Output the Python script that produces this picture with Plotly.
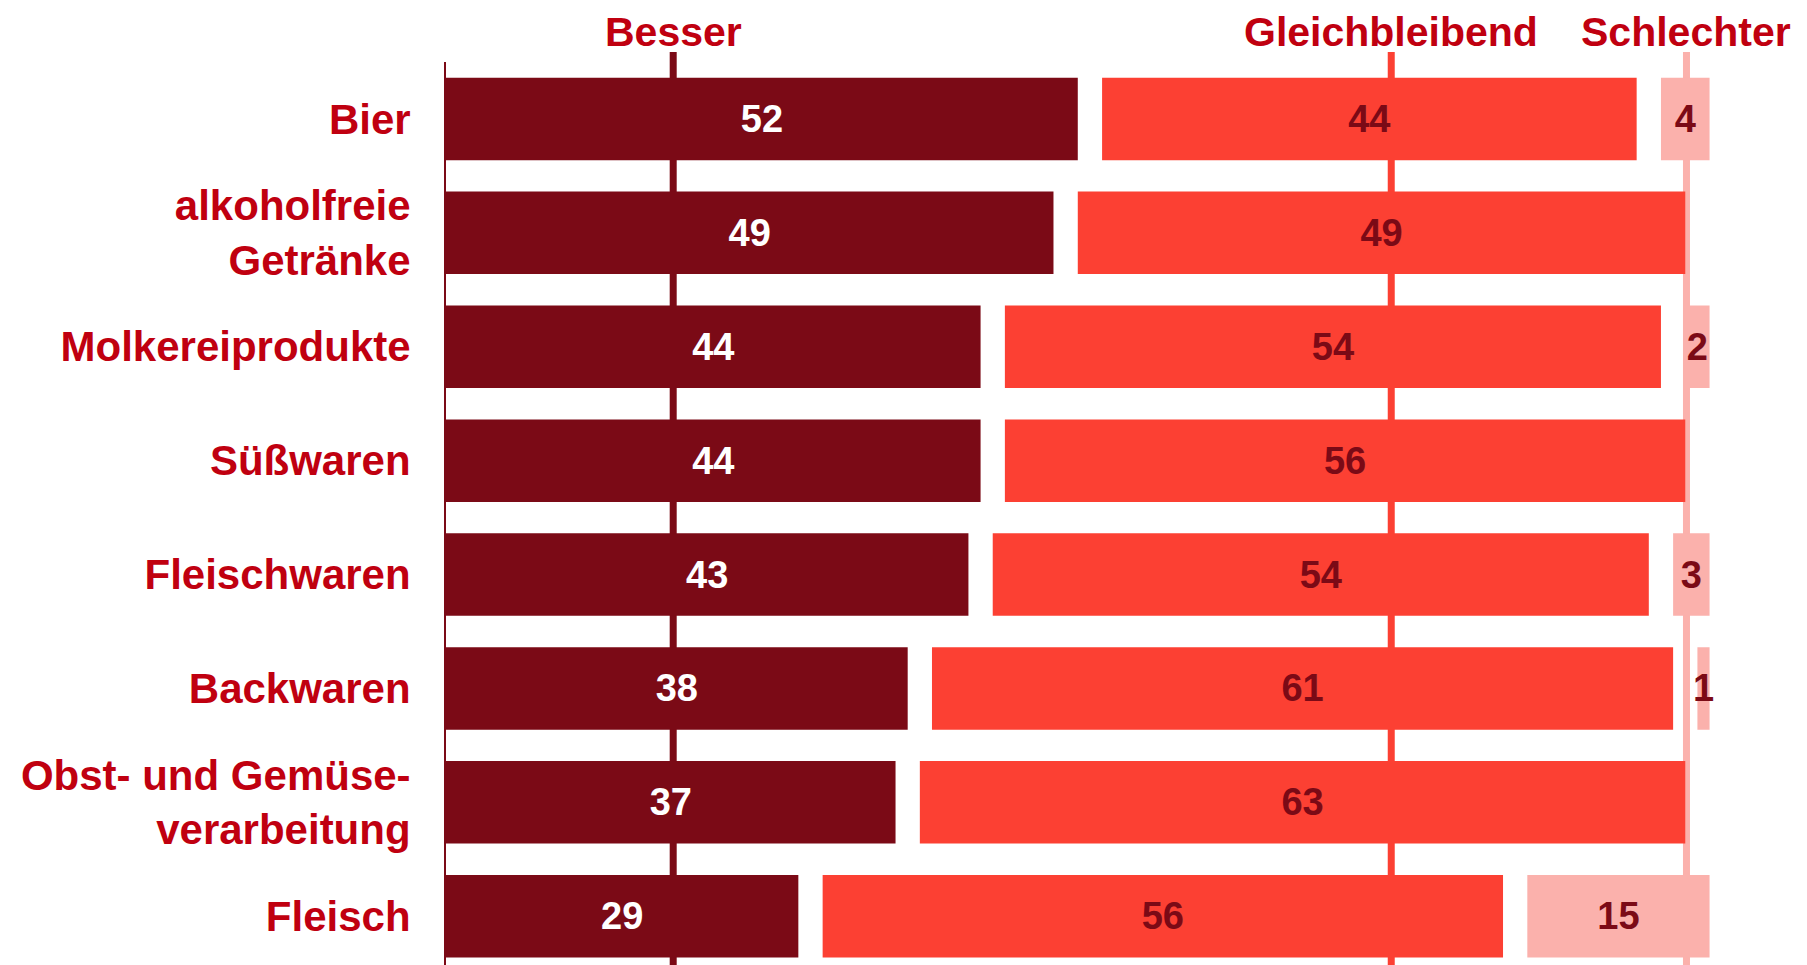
import plotly.graph_objects as go

# survey shares per product group (percent)
categories = ["Bier", "alkoholfreie<br>Getränke", "Molkereiprodukte", "Süßwaren",
              "Fleischwaren", "Backwaren", "Obst- und Gemüse-<br>verarbeitung", "Fleisch"]
besser = [52, 49, 44, 44, 43, 38, 37, 29]
gleichbleibend = [44, 49, 54, 56, 54, 61, 63, 56]
schlechter = [4, 0, 2, 0, 3, 1, 0, 15]

series_names = ["Besser", "Gleichbleibend", "Schlechter"]
header_pos = [18.7, 77.8, 102.1]  # x position of the header labels / guide lines

colors = ["#7B0A16", "#FC4033", "#FBB1AC"]
text_colors = ["white", "#7B0A16", "#7B0A16"]
label_red = "#C00010"
FONT = "Liberation Sans, Arial, sans-serif"
GAP = 2  # white gap between segments, in axis units

series = [besser, gleichbleibend, schlechter]

# segments are laid out as a 100 % bar with a small gap after each segment
bases = [[] for _ in series]
widths = [[] for _ in series]
for i in range(len(categories)):
    total = sum(s[i] for s in series)
    pos = 0
    for k, s in enumerate(series):
        w = s[i] / total * 100
        bases[k].append(pos)
        widths[k].append(w)
        if s[i] > 0:
            pos += w + GAP

fig = go.Figure()

for k, name in enumerate(series_names):
    vals = series[k]
    fig.add_trace(go.Bar(
        y=categories,
        x=[w if v > 0 else None for w, v in zip(widths[k], vals)],
        base=bases[k],
        orientation="h",
        name=name,
        marker=dict(color=colors[k], line=dict(width=0)),
        text=[str(v) if v > 0 else "" for v in vals],
        textposition="inside",
        insidetextanchor="middle",
        constraintext="none",
        textfont=dict(family=FONT, size=38, color=text_colors[k], weight="bold"),
        hoverinfo="skip",
    ))

# guide lines behind the bars + header labels
for k, name in enumerate(series_names):
    fig.add_shape(type="line", layer="below",
                  x0=header_pos[k], x1=header_pos[k], xref="x",
                  y0=0, y1=1.011, yref="paper",
                  line=dict(color=colors[k], width=7))
    fig.add_annotation(x=header_pos[k], y=1.033, xref="x", yref="paper",
                       text=name, showarrow=False, xanchor="center", yanchor="middle",
                       font=dict(family=FONT, size=41, color=label_red, weight="bold"))

# page body has an 8px margin, so the figure is made 8px smaller on each side
fig.update_layout(
    width=1799,
    height=957,
    margin=dict(l=438, r=0, t=54, b=0),
    paper_bgcolor="white",
    plot_bgcolor="white",
    barmode="overlay",
    bargap=0.276,
    showlegend=False,
    xaxis=dict(range=[0, 112.02], visible=False, fixedrange=True),
    yaxis=dict(
        range=[7.428, -0.5],
        showgrid=False,
        zeroline=False,
        showline=True,
        linecolor="#7B0A16",
        linewidth=2,
        ticks="",
        ticklabelstandoff=25,
        tickfont=dict(family=FONT, size=42, color=label_red, weight="bold"),
        fixedrange=True,
    ),
)

fig.write_html("out.html")
